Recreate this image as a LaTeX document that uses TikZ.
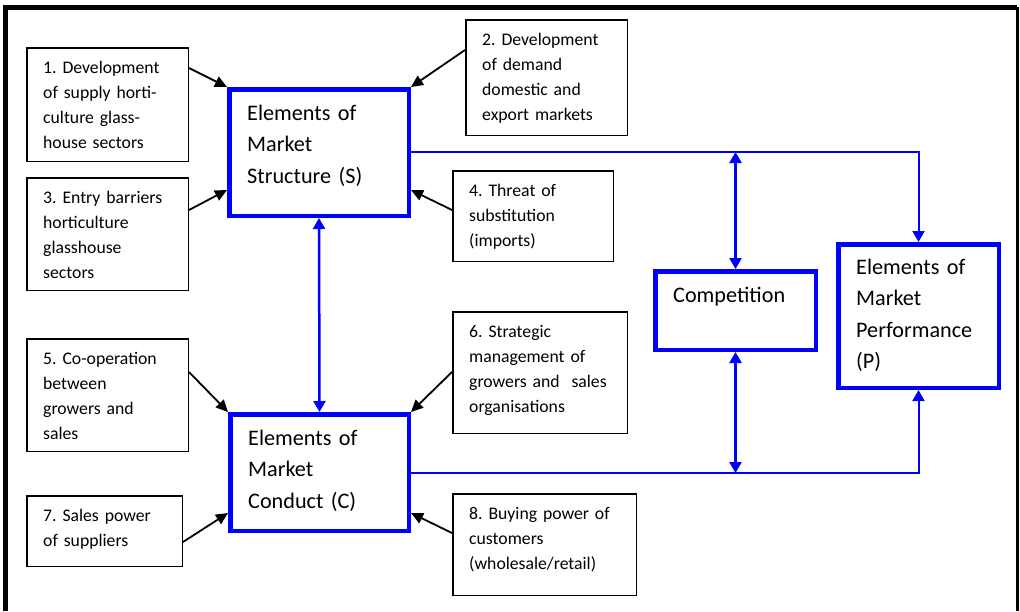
\documentclass[tikz,border=0pt]{standalone}
\usepackage{fontspec}
\setmainfont{Carlito}
\usetikzlibrary{arrows.meta}
\frenchspacing

\tikzset{
  smallbox/.style 2 args={draw=black, line width=1.5pt, inner sep=0pt, anchor=north west,
    minimum width=#1pt-1.5pt, minimum height=#2pt-1.5pt},
  bigbox/.style 2 args={draw=blue, line width=4.5pt, inner sep=0pt, anchor=north west,
    minimum width=#1pt-4.5pt, minimum height=#2pt-4.5pt},
  smalltxt/.style={font=\fontsize{17.7}{25}\selectfont, anchor=base west, inner sep=0pt,
    align=left, text width=160pt},
  bigtxt/.style={font=\fontsize{22.2}{31.5}\selectfont, anchor=base west, inner sep=0pt,
    align=left, text width=145pt},
  feed/.style={draw=black, line width=1.8pt, -{Triangle[length=12pt,width=11pt]}},
  link/.style={draw=blue, line width=2pt},
  tipb/.style={-{Triangle[length=11pt,width=12pt]}},
  tipbb/.style={{Triangle[length=11pt,width=12pt]}-{Triangle[length=11pt,width=12pt]}},
}

\begin{document}
\begin{tikzpicture}[x=1pt,y=-1pt]
\useasboundingbox (0,0) rectangle (1020,611);

% outer frame, open at the bottom
\draw[line width=5pt] (5.5,611) -- (5.5,7) -- (1017,7);
\draw[line width=3pt] (1017.5,7) -- (1017.5,611);

% influencing factors
\node[smallbox={163}{115}] (b1) at (26,47) {};
\node[smallbox={163}{114}] (b3) at (26,177) {};
\node[smallbox={163}{117}] (b2) at (465,19) {};
\node[smallbox={162}{92}]  (b4) at (452,170) {};
\node[smallbox={163}{114}] (b5) at (26,338) {};
\node[smallbox={157}{72}]  (b7) at (26,495) {};
\node[smallbox={176}{123}] (b6) at (452,311) {};
\node[smallbox={185}{103}] (b8) at (452,493) {};

\node[smalltxt] (t1) at ([xshift=17pt,yshift=-26pt]b1.north west)
  {1. Development\\of supply horti-\\culture glass-\\house sectors};
\node[smalltxt] (t3) at ([xshift=17pt,yshift=-26pt]b3.north west)
  {3. Entry barriers\\horticulture\\glasshouse\\sectors};
\node[smalltxt] (t2) at ([xshift=17pt,yshift=-26pt]b2.north west)
  {2. Development\\of demand\\domestic and\\export markets};
\node[smalltxt] (t4) at ([xshift=17pt,yshift=-26pt]b4.north west)
  {4. Threat of\\substitution\\(imports)};
\node[smalltxt] (t5) at ([xshift=17pt,yshift=-26pt]b5.north west)
  {5. Co-operation\\between\\growers and\\sales};
\node[smalltxt] (t7) at ([xshift=17pt,yshift=-26pt]b7.north west)
  {7. Sales power\\of suppliers};
\node[smalltxt] (t6) at ([xshift=17pt,yshift=-26pt]b6.north west)
  {6. Strategic\\management of\\growers and~ sales\\organisations};
\node[smalltxt] (t8) at ([xshift=17pt,yshift=-26pt]b8.north west)
  {8. Buying power of\\customers\\(wholesale/retail)};

% market elements
\node[bigbox={184}{131}] (S) at (227,87) {};
\node[bigbox={183}{121}] (C) at (228,412) {};
\node[bigbox={165}{83}]  (Comp) at (653,269) {};
\node[bigbox={165}{148}] (Perf) at (836,242) {};

\node[bigtxt] (tS) at ([xshift=20pt,yshift=-33pt]S.north west)
  {Elements of\\Market\\Structure (S)};
\node[bigtxt] (tC) at ([xshift=20pt,yshift=-33pt]C.north west)
  {Elements of\\Market\\Conduct (C)};
\node[bigtxt] (tComp) at ([xshift=20pt,yshift=-33pt]Comp.north west)
  {Competition};
\node[bigtxt] (tPerf) at ([xshift=20pt,yshift=-32pt]Perf.north west)
  {Elements of\\Market\\Performance\\(P)};

% factors acting on structure and conduct
\draw[feed] ([yshift=-21pt]b1.north east) -- (S.north west);
\draw[feed] ([yshift=-33pt]b3.north east) -- ([yshift=-103pt]S.north west);
\draw[feed] ([yshift=-31pt]b2.north west) -- (S.north east);
\draw[feed] ([yshift=-40pt]b4.north west) -- ([yshift=-103pt]S.north east);
\draw[feed] ([yshift=-34pt]b5.north east) -- (C.north west);
\draw[feed] ([yshift=-47pt]b7.north east) -- ([yshift=-101pt]C.north west);
\draw[feed] ([yshift=-61pt]b6.north west) -- (C.north east);
\draw[feed] ([yshift=-40pt]b8.north west) -- ([yshift=-101pt]C.north east);

% structure - conduct - performance links
\coordinate (sOut) at ([yshift=-65pt]S.north east);
\coordinate (cOut) at ([yshift=-61pt]C.north east);
\draw[link, tipbb, line width=2.5pt] (S.south) -- (C.north);
\draw[link, tipb] (sOut) -| (Perf.north);
\draw[link, tipb] (cOut) -| (Perf.south);
\draw[link, tipbb, line width=2.5pt] (Comp.north |- sOut) -- (Comp.north);
\draw[link, tipbb, line width=2.5pt] (Comp.south) -- (Comp.south |- cOut);
\end{tikzpicture}
\end{document}
